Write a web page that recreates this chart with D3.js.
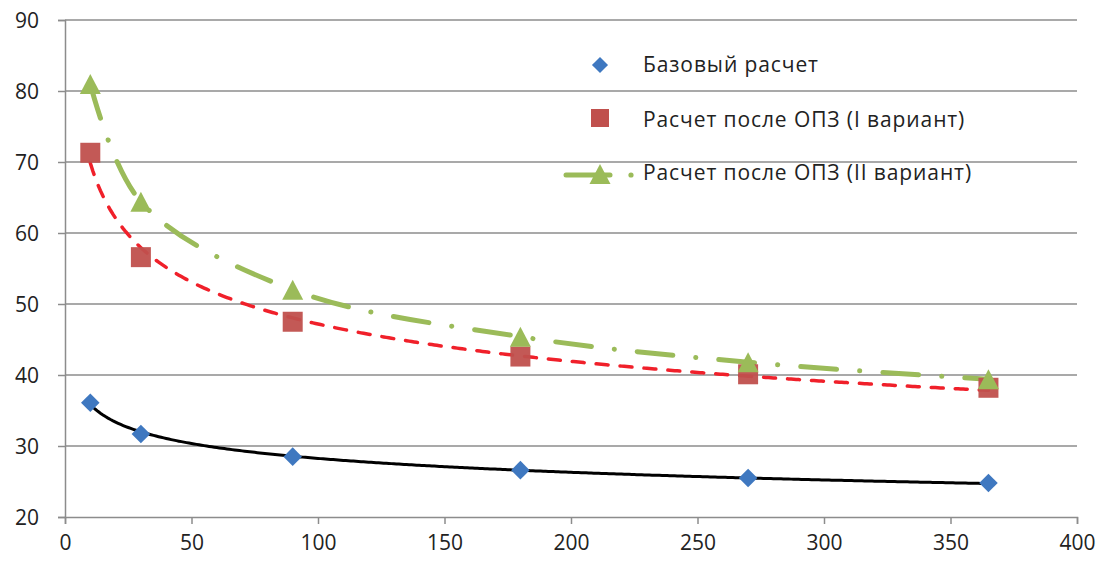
<!DOCTYPE html>
<html><head><meta charset="utf-8">
<script src="https://cdn.jsdelivr.net/npm/d3@7"></script>
<style>body{margin:0;background:#fff}svg{display:block}text{font-family:"Open Sans","Noto Sans",sans-serif;fill:#222}</style>
</head><body><svg id="c" width="1097" height="561"></svg>
<script>
const days = [10, 30, 90, 180, 270, 365];
const baseValues = [36.1, 31.7, 28.5, 26.6, 25.5, 24.8];
const variant1Values = [71.3, 56.6, 47.5, 42.6, 40.1, 38.2];
const variant2Values = [81.0, 64.4, 52.0, 45.4, 41.8, 39.4];
const seriesNames = ["Базовый расчет", "Расчет после ОПЗ (I вариант)", "Расчет после ОПЗ (II вариант)"];
const xTicks = [0, 50, 100, 150, 200, 250, 300, 350, 400];
const yTicks = [20, 30, 40, 50, 60, 70, 80, 90];

const svg = d3.select("#c");
const m = {l: 65, r: 20, t: 20, b: 44};
const W = 1097, H = 561;
const x = d3.scaleLinear().domain([0, 400]).range([m.l, W - m.r]);
const y = d3.scaleLinear().domain([20, 90]).range([H - m.b, m.t]);

// grid
svg.append("g").selectAll("line").data(yTicks.slice(1)).join("line")
  .attr("x1", x(0)).attr("x2", x(400)).attr("y1", d => y(d)).attr("y2", d => y(d))
  .attr("stroke", "#8c8c8c").attr("stroke-width", 1.5);

const xa = svg.append("g").attr("transform", `translate(0,${y(20)})`)
  .call(d3.axisBottom(x).tickValues(xTicks).tickSize(7).tickPadding(11));
const ya = svg.append("g").attr("transform", `translate(${x(0)},0)`)
  .call(d3.axisLeft(y).tickValues(yTicks).tickSize(7).tickPadding(19));
[xa, ya].forEach(a => {
  a.select(".domain").attr("stroke", "#8c8c8c").attr("stroke-width", 1.5);
  a.selectAll(".tick line").attr("stroke", "#8c8c8c").attr("stroke-width", 1.5);
  a.selectAll("text").attr("font-size", 21).style("font-family", '"Open Sans","Noto Sans",sans-serif').attr("fill", "#222");
});
ya.selectAll("text").attr("dy", "0.36em");

// power trendline fit (ln y = ln a + b ln x)
function powerFit(xs, ys) {
  const lx = xs.map(Math.log), ly = ys.map(Math.log);
  const mx = d3.mean(lx), my = d3.mean(ly);
  const b = d3.sum(lx, (v, i) => (v - mx) * (ly[i] - my)) / d3.sum(lx, v => (v - mx) ** 2);
  const a = Math.exp(my - b * mx);
  return t => a * Math.pow(t, b);
}
function trend(xs, ys) {
  const f = powerFit(xs, ys);
  return d3.range(xs[0], xs[xs.length - 1] + 0.01, 1).map(t => [t, f(t)]);
}
const lineGen = d3.line().x(d => x(d[0])).y(d => y(d[1]));

// black trend for base
svg.append("path").datum(trend(days, baseValues)).attr("d", lineGen)
  .attr("fill", "none").attr("stroke", "#000").attr("stroke-width", 3);
// red dashed trend for variant 1
svg.append("path").datum(trend(days, variant1Values)).attr("d", lineGen)
  .attr("fill", "none").attr("stroke", "#f0202a").attr("stroke-width", 3.5)
  .attr("stroke-linecap", "round").attr("stroke-dasharray", "12,12");

// green smoothed dash-dot series line
const greenLine = d3.line().x(d => x(d[0])).y(d => y(d[1])).curve(d3.curveCatmullRom.alpha(0.5));
svg.append("path").datum(days.map((d, i) => [d, variant2Values[i]])).attr("d", greenLine)
  .attr("fill", "none").attr("stroke", "#9bbb59").attr("stroke-width", 5)
  .attr("stroke-linecap", "round").attr("stroke-dasharray", "36,23,0.1,23");

// markers
const diamond = d3.symbol().type(d3.symbolDiamond2).size(220);
const square = d3.symbol().type(d3.symbolSquare).size(400);
const triType = {draw(ctx, size) { const w = 10.5, h = 10; ctx.moveTo(0, -h); ctx.lineTo(w, h); ctx.lineTo(-w, h); ctx.closePath(); }};
const tri = d3.symbol().type(triType);

svg.append("g").selectAll("path").data(days.map((d, i) => [d, variant1Values[i]])).join("path")
  .attr("d", square).attr("transform", d => `translate(${x(d[0])},${y(d[1])})`)
  .attr("fill", "#c0504d").attr("fill-opacity", 0.95);
svg.append("g").selectAll("path").data(days.map((d, i) => [d, variant2Values[i]])).join("path")
  .attr("d", tri).attr("transform", d => `translate(${x(d[0])},${y(d[1])})`)
  .attr("fill", "#9bbb59");
svg.append("g").selectAll("path").data(days.map((d, i) => [d, baseValues[i]])).join("path")
  .attr("d", diamond).attr("transform", d => `translate(${x(d[0])},${y(d[1])})`)
  .attr("fill", "#3f78c0");

// legend
const lg = svg.append("g");
lg.append("path").attr("d", d3.symbol().type(d3.symbolDiamond2).size(165)).attr("transform", "translate(600,65)").attr("fill", "#3f78c0");
lg.append("path").attr("d", d3.symbol().type(d3.symbolSquare).size(324)).attr("transform", "translate(600,118)").attr("fill", "#c0504d");
lg.append("line").attr("x1", 566).attr("x2", 610).attr("y1", 175).attr("y2", 175)
  .attr("stroke", "#9bbb59").attr("stroke-width", 5).attr("stroke-linecap", "round");
lg.append("circle").attr("cx", 631).attr("cy", 175).attr("r", 2.6).attr("fill", "#9bbb59");
lg.append("path").attr("d", tri).attr("transform", "translate(600,174)").attr("fill", "#9bbb59");
const baselines = [72, 127, 180];
lg.selectAll("text").data(seriesNames).join("text")
  .attr("x", 643).attr("y", (d, i) => baselines[i])
  .attr("font-size", 21).attr("letter-spacing", "0.9px").text(d => d);
</script></body></html>
